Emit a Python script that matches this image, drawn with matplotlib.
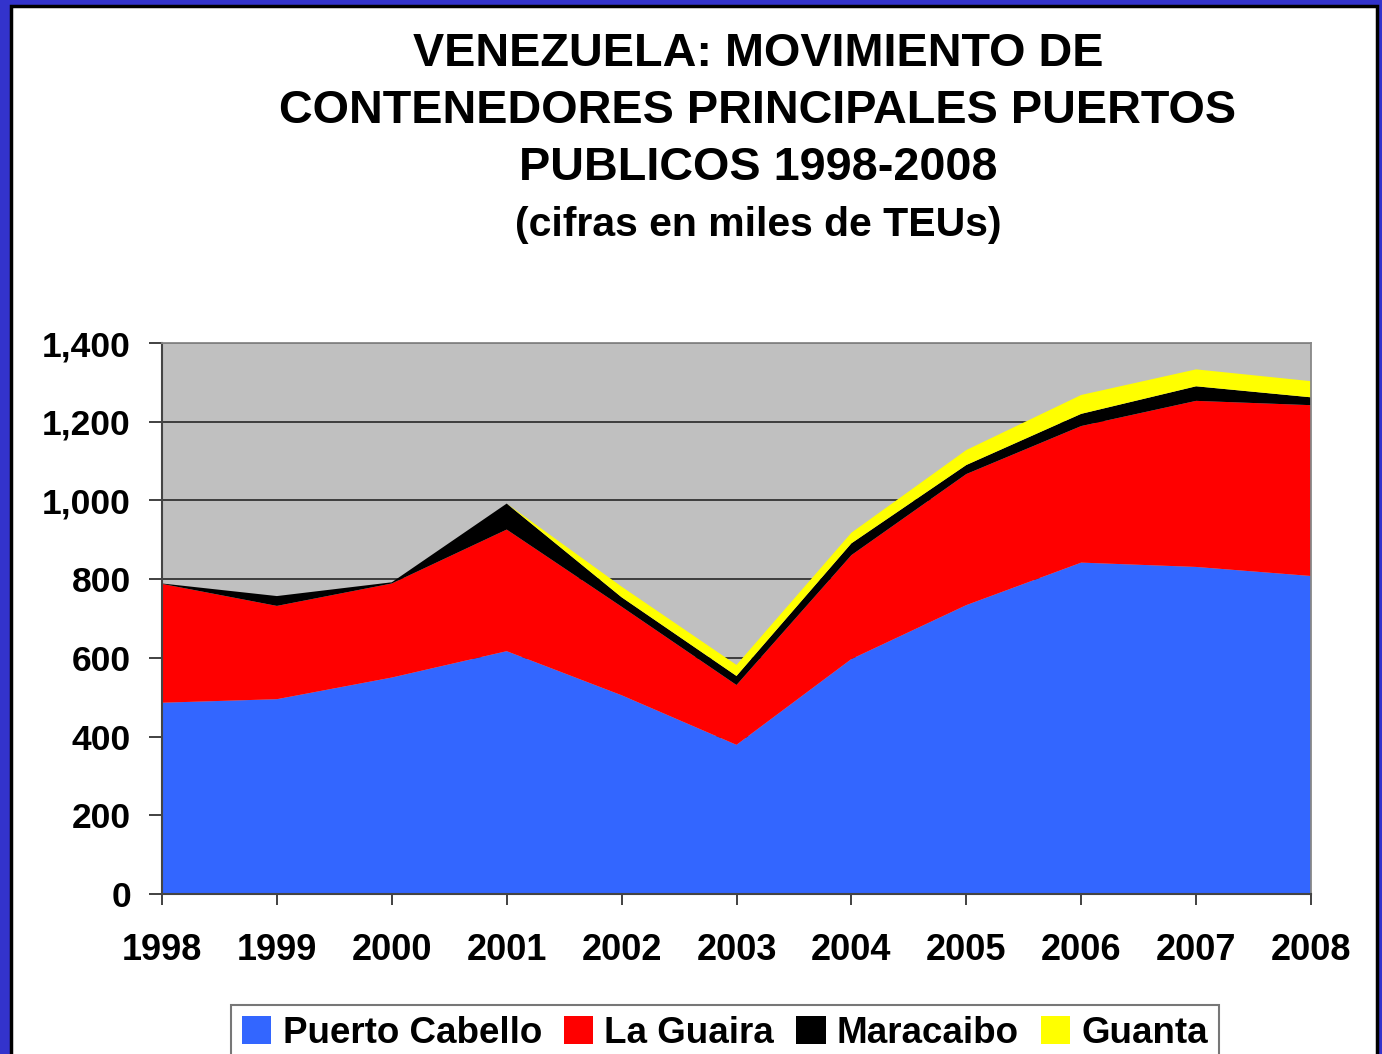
import matplotlib
matplotlib.use("Agg")
import matplotlib.pyplot as plt
from matplotlib.patches import Rectangle, Patch
import numpy as np

years = [1998, 1999, 2000, 2001, 2002, 2003, 2004, 2005, 2006, 2007, 2008]
puerto_cabello = [486, 495, 550, 617, 505, 379, 597, 734, 842, 831, 808]
la_guaira = [302, 237, 239, 309, 225, 152, 264, 333, 347, 422, 434]
maracaibo = [1, 25, 3, 66, 24, 23, 30, 23, 31, 37, 20]
guanta = [0, 0, 0, 0, 27, 28, 27, 38, 48, 43, 41]
series_names = ["Puerto Cabello", "La Guaira", "Maracaibo", "Guanta"]
colors = ["#3366FF", "#FF0000", "#000000", "#FFFF00"]
yticks = [0, 200, 400, 600, 800, 1000, 1200, 1400]

plt.rcParams['font.family'] = ['Liberation Sans', 'DejaVu Sans']

W, H = 1382, 1054
fig = plt.figure(figsize=(W / 100, H / 100), dpi=100)
fig.patch.set_facecolor("#3333CC")
# white inner panel with black edge
fig.patches.append(Rectangle((11 / W, -0.05), (W - 5 - 11) / W, 1.05 - 6 / H,
                             transform=fig.transFigure, facecolor="white",
                             edgecolor="black", linewidth=2.5, zorder=-10))

ax = fig.add_axes([162 / W, 1 - 894 / H, (1311 - 162) / W, (894 - 343) / H])
ax.set_facecolor("#C0C0C0")
ax.stackplot(years, puerto_cabello, la_guaira, maracaibo, guanta,
             colors=colors, linewidth=0, zorder=2)
ax.set_xlim(years[0], years[-1])
ax.set_ylim(0, 1400)
ax.set_yticks(yticks)
ax.set_yticklabels([f"{v:,}" for v in yticks], fontsize=25.5, fontweight="bold")
ax.set_xticks(years)
ax.set_xticklabels([str(y) for y in years], fontsize=26, fontweight="bold")
for v in yticks[1:]:
    ax.axhline(v, color="#333333", linewidth=1.3, zorder=1)
ax.tick_params(axis="y", length=9.4, width=1.3, color="#333333", pad=13, direction="out")
ax.tick_params(axis="x", length=8, width=1.3, color="#333333", pad=20, direction="out")
for s in ["top", "right"]:
    ax.spines[s].set_color("#888888")
    ax.spines[s].set_linewidth(1.3)
ax.spines["left"].set_color("#444444")
ax.spines["bottom"].set_color("#444444")
ax.spines["left"].set_linewidth(1.5)
ax.spines["bottom"].set_linewidth(1.5)
for s in ax.spines.values():
    s.set_zorder(5)

title_lines = ["VENEZUELA: MOVIMIENTO DE",
               "CONTENEDORES PRINCIPALES PUERTOS",
               "PUBLICOS 1998-2008"]
for i, t in enumerate(title_lines):
    fig.text(758 / W, 1 - (53.5 + i * 57.5) / H, t, ha="center", va="center",
             fontsize=33.7, fontweight="bold")
fig.text(758 / W, 1 - 225 / H, "(cifras en miles de TEUs)", ha="center", va="center",
         fontsize=29.5, fontweight="bold")

handles = [Patch(facecolor=c, edgecolor="none") for c in colors]
leg = fig.legend(handles, series_names, loc="upper left",
                 bbox_to_anchor=(231 / W, 1 - 1005 / H), ncol=4,
                 frameon=True, fancybox=False, prop={"size": 26.5, "weight": "bold"},
                 handlelength=0.8, handleheight=0.8, handletextpad=0.3,
                 columnspacing=0.6, borderpad=0.3, borderaxespad=0)
leg.get_frame().set_edgecolor("#555555")
leg.get_frame().set_linewidth(1.5)

fig.savefig("out.png", dpi=100)
